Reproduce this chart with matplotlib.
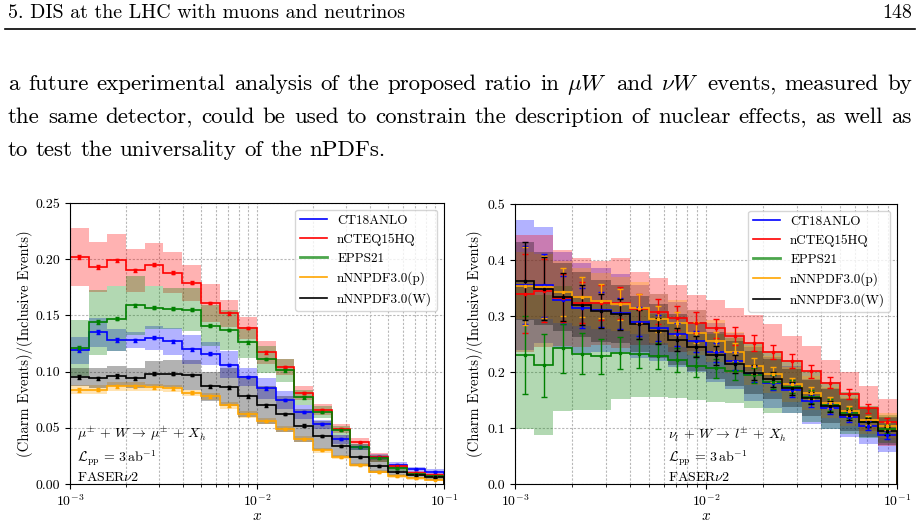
import numpy as np
import matplotlib.pyplot as plt
from matplotlib.lines import Line2D

plt.rcParams['font.family'] = 'cmr10'
plt.rcParams['mathtext.fontset'] = 'cm'
plt.rcParams['axes.formatter.use_mathtext'] = True
plt.rcParams['axes.unicode_minus'] = False

W, H = 920, 523

# --- page text ---
header_left = "5. DIS at the LHC with muons and neutrinos"
header_right = "148"
body_lines = [
    r"a future experimental analysis of the proposed ratio in $\mu{W}$ and $\nu{W}$ events, measured by",
    "the same detector, could be used to constrain the description of nuclear effects, as well as",
    "to test the universality of the nPDFs.",
]

# --- binning: 10 log bins per decade between 1e-3 and 1e-1 ---
x_edges = np.logspace(-3, -1, 21)

labels = ['CT18ANLO', 'nCTEQ15HQ', 'EPPS21', 'nNNPDF3.0(p)', 'nNNPDF3.0(W)']
colors = ['blue', 'red', 'green', 'orange', 'black']

# --- muon panel: central values ---
mu_ct18 = [0.119, 0.135, 0.128, 0.128, 0.130, 0.127, 0.120, 0.116, 0.106, 0.095,
           0.085, 0.075, 0.064, 0.053, 0.040, 0.033, 0.024, 0.017, 0.013, 0.011]
mu_ncteq = [0.202, 0.193, 0.199, 0.190, 0.195, 0.188, 0.179, 0.161, 0.152, 0.139,
            0.117, 0.104, 0.081, 0.066, 0.049, 0.037, 0.024, 0.016, 0.010, 0.008]
mu_epps = [0.121, 0.144, 0.147, 0.159, 0.157, 0.156, 0.155, 0.141, 0.137, 0.126,
           0.111, 0.101, 0.077, 0.064, 0.048, 0.033, 0.023, 0.014, 0.009, 0.007]
mu_nnpdf_p = [0.084, 0.084, 0.087, 0.087, 0.086, 0.085, 0.081, 0.078, 0.070, 0.062,
              0.056, 0.049, 0.040, 0.030, 0.024, 0.017, 0.011, 0.007, 0.005, 0.004]
mu_nnpdf_w = [0.095, 0.094, 0.096, 0.094, 0.098, 0.098, 0.097, 0.087, 0.086, 0.078,
              0.070, 0.062, 0.052, 0.043, 0.034, 0.024, 0.016, 0.011, 0.008, 0.006]
# PDF uncertainty (half width of bands)
mu_ct18_pdf = [0.012, 0.013, 0.010, 0.007, 0.011, 0.012, 0.013, 0.010, 0.012, 0.008,
               0.009, 0.008, 0.006, 0.004, 0.004, 0.003, 0.003, 0.0025, 0.002, 0.002]
mu_ncteq_pdf = [0.026, 0.022, 0.023, 0.019, 0.019, 0.018, 0.016, 0.017, 0.012, 0.010,
                0.010, 0.007, 0.006, 0.005, 0.004, 0.004, 0.004, 0.002, 0.002, 0.002]
mu_epps_pdf = [0.025, 0.029, 0.029, 0.026, 0.019, 0.018, 0.019, 0.018, 0.018, 0.014,
               0.012, 0.010, 0.007, 0.005, 0.004, 0.003, 0.003, 0.002, 0.002, 0.0015]
mu_nnpdf_p_pdf = [0.004, 0.004, 0.004, 0.004, 0.003, 0.003, 0.003, 0.003, 0.003, 0.003,
                  0.0025, 0.0025, 0.0025, 0.002, 0.002, 0.002, 0.0015, 0.0015, 0.001, 0.001]
mu_nnpdf_w_pdf = [0.008, 0.009, 0.009, 0.009, 0.011, 0.012, 0.013, 0.013, 0.017, 0.018,
                  0.017, 0.016, 0.015, 0.013, 0.010, 0.008, 0.006, 0.004, 0.003, 0.0025]
# statistical errors
mu_stat = [0.0018, 0.0016, 0.0015, 0.0014, 0.0014, 0.0013, 0.0013, 0.0012, 0.0012, 0.0011,
           0.0011, 0.0010, 0.0010, 0.0009, 0.0009, 0.0008, 0.0008, 0.0007, 0.0007, 0.0006]

# --- neutrino panel: central values ---
nu_ct18 = [0.355, 0.355, 0.329, 0.314, 0.311, 0.305, 0.290, 0.279, 0.267, 0.255,
           0.235, 0.220, 0.197, 0.181, 0.168, 0.148, 0.135, 0.119, 0.104, 0.088]
nu_ncteq = [0.340, 0.345, 0.332, 0.324, 0.324, 0.323, 0.313, 0.308, 0.296, 0.288,
            0.278, 0.264, 0.252, 0.236, 0.220, 0.201, 0.181, 0.160, 0.135, 0.110]
nu_epps = [0.230, 0.212, 0.242, 0.233, 0.228, 0.234, 0.233, 0.229, 0.221, 0.210,
           0.207, 0.202, 0.194, 0.182, 0.174, 0.156, 0.141, 0.127, 0.111, 0.098]
nu_nnpdf_p = [0.354, 0.352, 0.343, 0.334, 0.327, 0.321, 0.314, 0.295, 0.287, 0.270,
              0.255, 0.235, 0.211, 0.196, 0.178, 0.162, 0.145, 0.130, 0.114, 0.104]
nu_nnpdf_w = [0.362, 0.349, 0.334, 0.320, 0.309, 0.303, 0.285, 0.273, 0.258, 0.245,
              0.230, 0.215, 0.199, 0.187, 0.171, 0.153, 0.139, 0.123, 0.110, 0.095]
nu_ct18_pdf = [0.116, 0.104, 0.086, 0.080, 0.075, 0.070, 0.065, 0.060, 0.058, 0.055,
               0.052, 0.050, 0.048, 0.045, 0.042, 0.040, 0.037, 0.035, 0.032, 0.030]
nu_ncteq_pdf = [0.105, 0.100, 0.085, 0.080, 0.075, 0.080, 0.065, 0.060, 0.060, 0.050,
                0.050, 0.050, 0.050, 0.050, 0.045, 0.045, 0.040, 0.040, 0.040, 0.042]
nu_epps_pdf = [0.131, 0.125, 0.112, 0.100, 0.095, 0.083, 0.077, 0.074, 0.068, 0.060,
               0.060, 0.058, 0.058, 0.055, 0.047, 0.045, 0.042, 0.037, 0.028, 0.025]
nu_nnpdf_p_pdf = [0.060, 0.058, 0.055, 0.052, 0.050, 0.048, 0.046, 0.044, 0.042, 0.040,
                  0.038, 0.036, 0.035, 0.033, 0.031, 0.030, 0.028, 0.026, 0.024, 0.022]
nu_nnpdf_w_pdf = [0.070, 0.065, 0.060, 0.058, 0.055, 0.052, 0.050, 0.048, 0.046, 0.044,
                  0.042, 0.040, 0.038, 0.036, 0.034, 0.032, 0.030, 0.028, 0.026, 0.025]
nu_stat = [0.070, 0.056, 0.043, 0.036, 0.031, 0.028, 0.026, 0.023, 0.021, 0.019,
           0.017, 0.016, 0.014, 0.013, 0.012, 0.011, 0.010, 0.009, 0.008, 0.007]


def px(x, y):
    return x / W, 1 - y / H


def text_width(fig, s, fs):
    t = fig.text(0, 0, s, fontsize=fs)
    w = t.get_window_extent(fig.canvas.get_renderer()).width
    t.remove()
    return w


def put_line(fig, s, x0, y, fs, x1=None):
    # place word by word so that full lines are justified like the page
    words = s.split(' ')
    widths = [text_width(fig, w, fs) for w in words]
    if x1 is None:
        gap = text_width(fig, 'a b', fs) - text_width(fig, 'ab', fs)
    else:
        gap = (x1 - x0 - sum(widths)) / (len(words) - 1)
    x = x0
    for w, wd in zip(words, widths):
        fig.text(*px(x, y), w, fontsize=fs, va='baseline', ha='left')
        x += wd + gap


def draw_panel(ax, series, bands, stat, ms, cap, label_x):
    xc = np.sqrt(x_edges[:-1] * x_edges[1:])
    for vals, hw, c in zip(series, bands, colors):
        v = np.array(vals)
        e = np.array(hw)
        ax.stairs(v + e, x_edges, baseline=v - e, fill=True, color=c, alpha=0.3, lw=0)
    for vals, c in zip(series, colors):
        ax.stairs(vals, x_edges, color=c, lw=1.2)
        ax.errorbar(xc, vals, yerr=stat, fmt='s', ms=ms, color=c, capsize=cap,
                    elinewidth=1, lw=0)
    ax.set_xscale('log')
    ax.set_xlim(1e-3, 1e-1)
    ax.grid(True, which='both', axis='x', color='0.72', ls=(0, (2, 1.5)), lw=0.8)
    ax.grid(True, which='major', axis='y', color='0.72', ls=(0, (2, 1.5)), lw=0.8)
    ax.set_axisbelow(True)
    ax.tick_params(labelsize=10)
    ax.set_xlabel(r'$x$', fontsize=11)
    ax.xaxis.set_label_coords(0.5, -0.09)
    ax.set_ylabel('(Charm Events)/(Inclusive Events)', fontsize=10.5)
    ax.yaxis.set_label_coords(label_x, 0.5)
    handles = [Line2D([], [], color=c, lw=1.2) for c in colors]
    handles[2] = Line2D([], [], color='green', alpha=0.7, lw=2)
    ax.legend(handles, labels, loc='upper right', fontsize=9.5, framealpha=0.8)


fig = plt.figure(figsize=(W / 100, H / 100), dpi=100)

# header
fs_head = 15 * 398 / text_width(fig, header_left, 15)
fig.text(*px(8, 18), header_left, fontsize=fs_head, va='baseline', ha='left')
fig.text(*px(912, 18), header_right, fontsize=fs_head, va='baseline', ha='right')
fig.add_artist(Line2D([5 / W, 915 / W], [1 - 28.5 / H] * 2, color='black', lw=1.2))

# body paragraph
fs_body = 15 * 380 / text_width(fig, body_lines[2], 15)
put_line(fig, body_lines[0], 8, 90, fs_body, 912)
put_line(fig, body_lines[1], 8, 123, fs_body, 912)
put_line(fig, body_lines[2], 8, 156, fs_body)

ann_fs = 10

# left panel: muons
ax1 = fig.add_axes([70 / W, 1 - 484 / H, 374 / W, 281 / H])
draw_panel(ax1, [mu_ct18, mu_ncteq, mu_epps, mu_nnpdf_p, mu_nnpdf_w],
           [mu_ct18_pdf, mu_ncteq_pdf, mu_epps_pdf, mu_nnpdf_p_pdf, mu_nnpdf_w_pdf],
           mu_stat, 1.8, 1.5, -0.1)
ax1.set_ylim(0, 0.25)
ax1.set_yticks([0, 0.05, 0.10, 0.15, 0.20, 0.25])
ax1.yaxis.set_major_formatter(plt.FormatStrFormatter('%.2f'))
ax1.text(0.02, 0.16, r'$\mu^{\pm}\, +\, W\, \rightarrow\, \mu^{\pm}\, +\, X_h$',
         transform=ax1.transAxes, fontsize=ann_fs)
ax1.text(0.02, 0.08, r'$\mathcal{L}_{\rm pp}\, =\, 3\,{\rm ab}^{-1}$',
         transform=ax1.transAxes, fontsize=ann_fs)
ax1.text(0.02, 0.01, r'FASER$\nu$2', transform=ax1.transAxes, fontsize=ann_fs)

# right panel: neutrinos
ax2 = fig.add_axes([515 / W, 1 - 484 / H, 382 / W, 280 / H])
draw_panel(ax2, [nu_ct18, nu_ncteq, nu_epps, nu_nnpdf_p, nu_nnpdf_w],
           [nu_ct18_pdf, nu_ncteq_pdf, nu_epps_pdf, nu_nnpdf_p_pdf, nu_nnpdf_w_pdf],
           nu_stat, 2, 2, -0.085)
ax2.set_ylim(0, 0.5)
ax2.set_yticks([0, 0.1, 0.2, 0.3, 0.4, 0.5])
ax2.yaxis.set_major_formatter(plt.FormatStrFormatter('%.1f'))
ax2.text(0.40, 0.16, r'$\nu_l\, +\, W\, \rightarrow\, l^{\pm}\, +\, X_h$',
         transform=ax2.transAxes, fontsize=ann_fs)
ax2.text(0.40, 0.08, r'$\mathcal{L}_{\rm pp}\, =\, 3\,{\rm ab}^{-1}$',
         transform=ax2.transAxes, fontsize=ann_fs)
ax2.text(0.40, 0.01, r'FASER$\nu$2', transform=ax2.transAxes, fontsize=ann_fs)

fig.savefig('out.png', dpi=100)
